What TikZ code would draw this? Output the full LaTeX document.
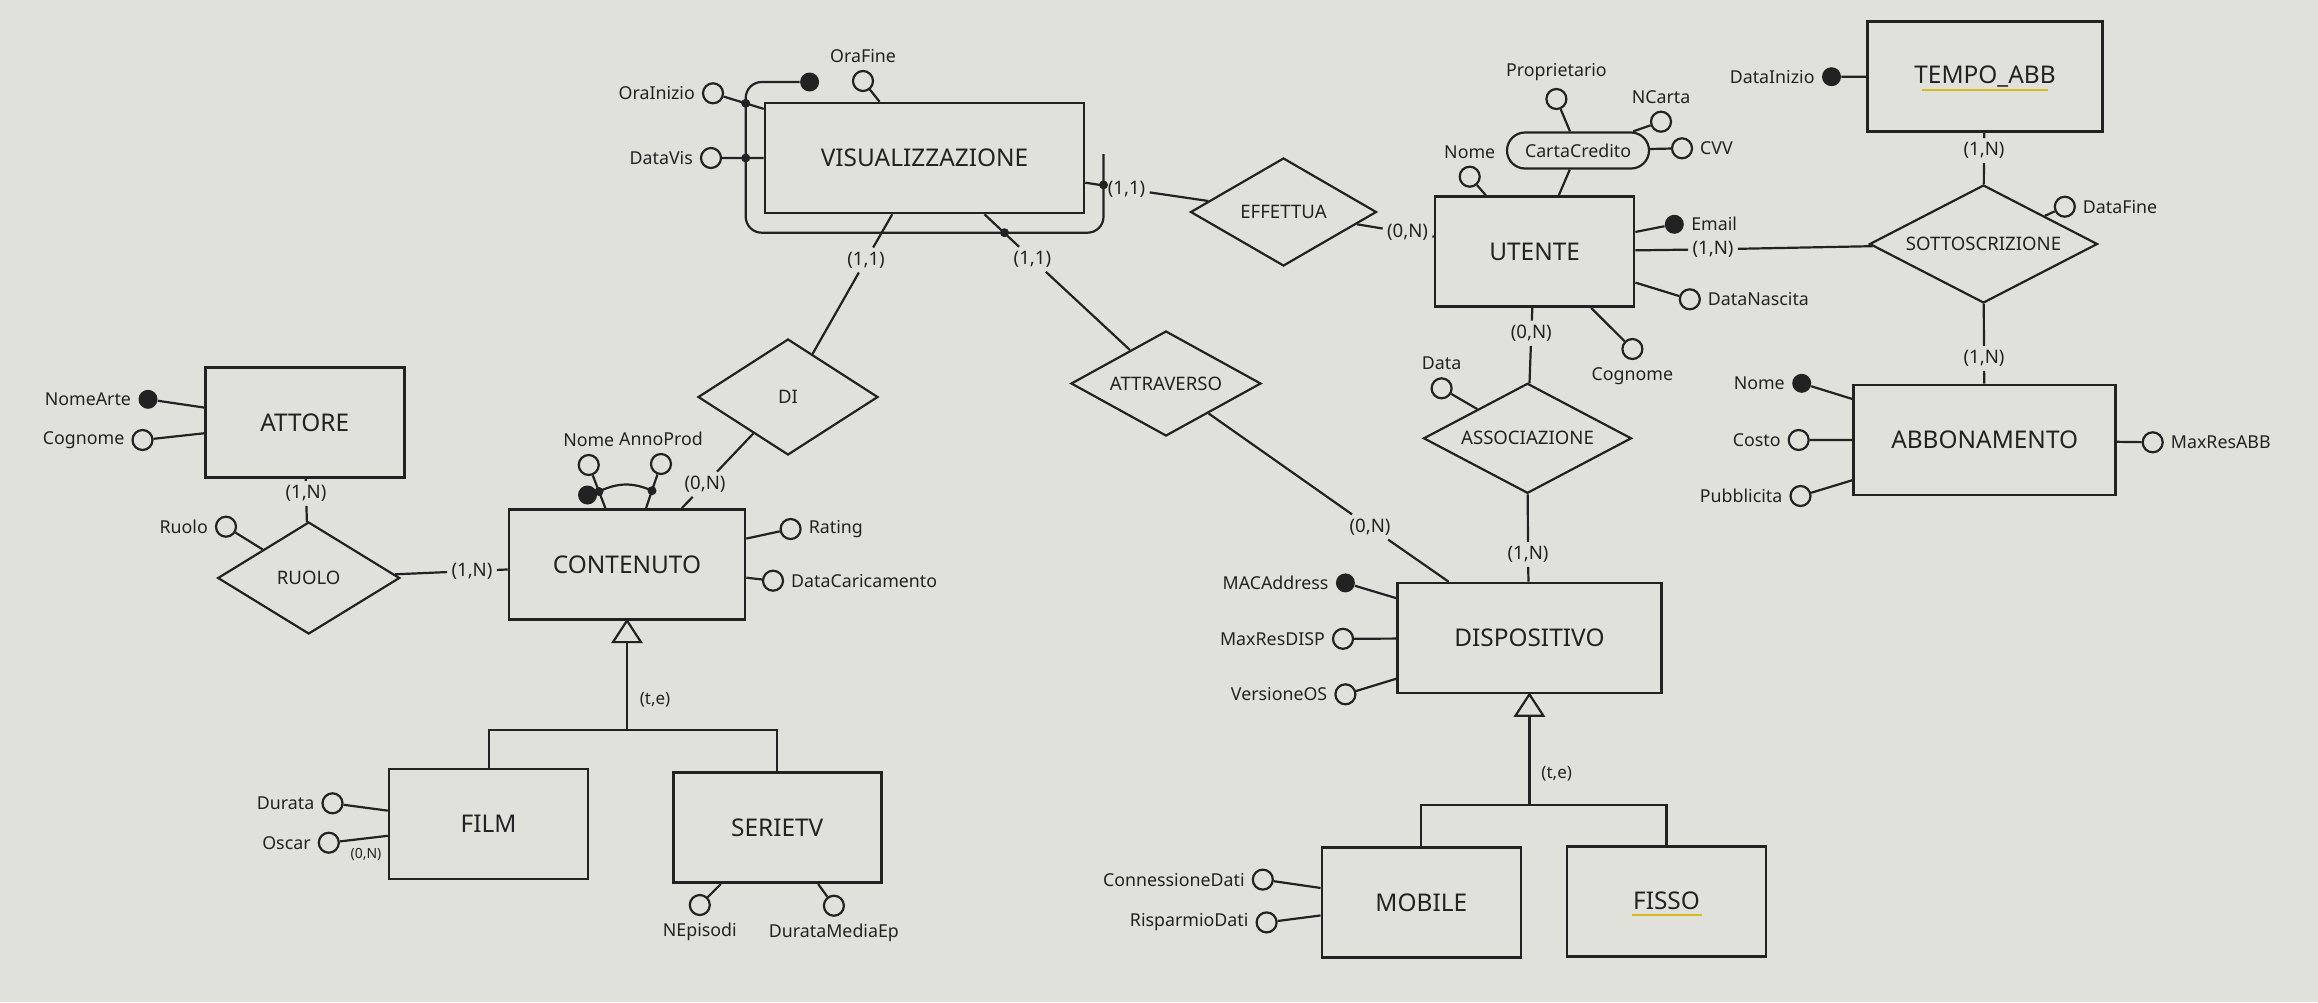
\documentclass[tikz,border=0pt]{standalone}
\usepackage{fontspec}
\setmainfont{Noto Sans}
\usetikzlibrary{shapes.geometric,calc}

\definecolor{sfondo}{RGB}{225,225,220}
\definecolor{tratto}{RGB}{34,34,34}
\definecolor{giallo}{RGB}{214,186,30}

\begin{document}
\begin{tikzpicture}[x=0.5pt,y=-0.5pt,
    every node/.style={text=tratto},
    entita/.style={rectangle,draw=tratto,line width=1.3pt,minimum width=99.5pt,minimum height=55pt,font=\fontsize{12.2}{14}\selectfont},
    relazione/.style={diamond,aspect=2,draw=tratto,line width=1.1pt,inner sep=0pt,font=\fontsize{9.3}{11}\selectfont},
    composto/.style={rectangle,rounded corners=9pt,draw=tratto,line width=1.1pt,minimum width=71pt,minimum height=18pt,font=\fontsize{8.9}{10}\selectfont},
    attributo/.style={circle,draw=tratto,line width=1.1pt,inner sep=0pt,minimum size=10pt,label distance=2.5pt},
    chiave/.style={circle,fill=tratto,inner sep=0pt,minimum size=9.5pt,label distance=2.5pt},
    punto/.style={circle,fill=tratto,inner sep=0pt,minimum size=4.5pt},
    card/.style={inner sep=2pt,font=\fontsize{9.3}{11}\selectfont},
    every label/.style={font=\fontsize{8.9}{10}\selectfont},
    linea/.style={draw=tratto,line width=1.1pt}
  ]
  \fill[sfondo] (0,0) rectangle (2318,1002);

  % entita
  \node[entita,minimum width=159.5pt] (vis) at (924.5,158) {VISUALIZZAZIONE};
  \node[entita] (att) at (304.7,422.3) {ATTORE};
  \node[entita,minimum width=118pt] (cont) at (627,564.3) {CONTENUTO};
  \node[entita] (film) at (488.6,824) {FILM};
  \node[entita,minimum width=104pt] (serie) at (777.2,827.7) {SERIETV};
  \node[entita] (ute) at (1534.6,251.7) {UTENTE};
  \node[entita,minimum width=117.5pt] (tempo) at (1985,76.7) {TEMPO\_ABB};
  \node[entita,minimum width=131pt] (abb) at (1984.7,440) {ABBONAMENTO};
  \node[entita,minimum width=132pt] (disp) at (1529.4,638) {DISPOSITIVO};
  \node[entita] (mob) at (1421.3,902.5) {MOBILE};
  \node[entita] (fisso) at (1666.5,901.2) {FISSO};

  % relazioni
  \node[relazione,minimum width=93pt,minimum height=54pt] (eff) at (1283.5,212) {EFFETTUA};
  \node[relazione,minimum width=90pt,minimum height=58pt] (di) at (788,397) {DI};
  \node[relazione,minimum width=95pt,minimum height=52.5pt] (attrav) at (1166,383.5) {ATTRAVERSO};
  \node[relazione,minimum width=91pt,minimum height=56pt] (ruolo) at (308.7,578) {RUOLO};
  \node[relazione,minimum width=114pt,minimum height=59pt] (sott) at (1983.5,244) {SOTTOSCRIZIONE};
  \node[relazione,minimum width=104pt,minimum height=55pt] (assoc) at (1527.5,438.3) {ASSOCIAZIONE};

  % cardinalita
  \node[card] (c1) at (1126.5,189) {(1,1)};
  \node[card] (c2) at (1407.5,232.7) {(0,N)};
  \node[card] (c3) at (866,260) {(1,1)};
  \node[card] (c4) at (705,484.3) {(0,N)};
  \node[card] (c5) at (1032.4,259.3) {(1,1)};
  \node[card] (c6) at (1370,527) {(0,N)};
  \node[card] (c7) at (306,493.3) {(1,N)};
  \node[card] (c8) at (472,571) {(1,N)};
  \node[card] (c9) at (1531.3,333.3) {(0,N)};
  \node[card] (c10) at (1528,554.3) {(1,N)};
  \node[card] (c11) at (1984,150.7) {(1,N)};
  \node[card] (c12) at (1984,358.3) {(1,N)};
  \node[card] (c13) at (1713,249.3) {(1,N)};

  \draw[linea] (vis) -- (c1) -- (eff);
  \draw[linea] (eff) -- (c2) -- (ute);
  \draw[linea] (vis) -- (c3) -- (di);
  \draw[linea] (di) -- (c4) -- (cont);
  \draw[linea] (vis) -- (c5) -- (attrav);
  \draw[linea] (attrav) -- (c6) -- (disp);
  \draw[linea] (att) -- (c7) -- (ruolo);
  \draw[linea] (ruolo) -- (c8) -- (cont);
  \draw[linea] (ute) -- (c9) -- (assoc);
  \draw[linea] (assoc) -- (c10) -- (disp);
  \draw[linea] (tempo) -- (c11) -- (sott);
  \draw[linea] (sott) -- (c12) -- (abb);
  \draw[linea] (sott) -- (c13) -- (ute);

  % attributi VISUALIZZAZIONE
  \node[attributo,label=left:OraInizio] (oraini) at (713,93.3) {};
  \node[attributo,label=above:OraFine] (orafine) at (863,81) {};
  \node[attributo,label=left:DataVis] (datavis) at (711,158) {};
  \node[chiave] (idvis) at (809.6,82) {};
  \draw[linea] (oraini) -- (vis) (orafine) -- (vis) (datavis) -- (vis);
  \draw[linea,rounded corners=8pt] (idvis.west) -- (745.7,82) -- (745.7,232.7) -- (1103.5,232.7) -- (1103.5,154);
  \node[punto] (p1) at (745.7,103.3) {};
  \node[punto] (p2) at (745.7,158) {};
  \node[punto] (p3) at (1103.5,184.9) {};
  \node[punto] (p4) at (1004.5,232.7) {};

  % attributi ATTORE e RUOLO
  \node[chiave,label=left:NomeArte] (nomearte) at (148,399.3) {};
  \node[attributo,label=left:Cognome] (cognomeatt) at (142.5,440) {};
  \node[attributo,label=left:Ruolo] (ruoloattr) at (226,526.7) {};
  \draw[linea] (nomearte) -- (att) (cognomeatt) -- (att) (ruoloattr) -- (ruolo);

  % attributi CONTENUTO
  \node[attributo,label=above:Nome] (nomecont) at (588.75,465) {};
  \node[attributo,label=above:AnnoProd] (annoprod) at (661,464) {};
  \node[attributo,label=right:Rating] (rating) at (790.6,529) {};
  \node[attributo,label=right:DataCaricamento] (datacar) at (773,580.7) {};
  \draw[linea] (nomecont) -- (cont) (annoprod) -- (cont) (rating) -- (cont) (datacar) -- (cont);
  \node[punto] (p5) at (599,491.5) {};
  \node[punto] (p6) at (652,490.7) {};
  \node[chiave] (idcont) at (587.5,495) {};
  \draw[linea] (p5.center) to[bend left=25] (p6.center);

  % gerarchia CONTENUTO
  \draw[linea,fill=sfondo] (cont.south) -- ++(-14,21.5) -- ++(28,0) -- cycle;
  \coordinate (isa1) at ($(cont.south)+(0,21.5)$);
  \coordinate (gen1) at ($(isa1)+(0,87.5)$);
  \draw[linea] (isa1) -- (gen1) (film.north) |- (gen1) -| (serie.north);
  \node[font=\fontsize{8.5}{10}\selectfont] (te1) at (655,700) {(t,e)};

  % attributi FILM e SERIETV
  \node[attributo,label=left:Durata] (durata) at (332.5,803.3) {};
  \node[attributo,label=left:Oscar] (oscar) at (328.8,842.7) {};
  \node[font=\fontsize{7}{8}\selectfont] (cardoscar) at (366,854.3) {(0,N)};
  \node[attributo,label=below:NEpisodi] (nepisodi) at (699.8,905) {};
  \node[attributo,label=below:DurataMediaEp] (durmedia) at (833.9,905.7) {};
  \draw[linea] (durata) -- (film) (oscar) -- (film) (nepisodi) -- (serie) (durmedia) -- (serie);

  % attributi UTENTE
  \node[composto] (carta) at (1578,150.5) {CartaCredito};
  \node[attributo,label=above:Proprietario] (propr) at (1556.4,99) {};
  \node[attributo,label=above:NCarta] (ncarta) at (1661,121.7) {};
  \node[attributo,label=right:CVV] (cvv) at (1682,148.3) {};
  \node[attributo,label=above:Nome] (nomeute) at (1469.7,176.7) {};
  \node[chiave,label=right:Email] (email) at (1674.3,224.3) {};
  \node[attributo,label=right:DataNascita] (datanascita) at (1689.8,299.3) {};
  \node[attributo,label=below:Cognome] (cognomeute) at (1632.4,349) {};
  \draw[linea] (propr) -- (carta) (ncarta) -- (carta) (cvv) -- (carta) (carta) -- (ute);
  \draw[linea] (nomeute) -- (ute) (email) -- (ute) (datanascita) -- (ute) (cognomeute) -- (ute);

  % attributi TEMPO_ABB, SOTTOSCRIZIONE, ABBONAMENTO
  \node[chiave,label=left:DataInizio] (datainizio) at (1831.5,76.7) {};
  \draw[giallo,line width=1pt] ($(tempo.center)+(-63,13)$) -- ($(tempo.center)+(63,13)$);
  \node[attributo,label=right:DataFine] (datafine) at (2064.8,206.7) {};
  \node[chiave,label=left:Nome] (nomeabb) at (1801.7,383.3) {};
  \node[attributo,label=left:Costo] (costo) at (1798.7,440) {};
  \node[attributo,label=left:Pubblicita] (pubbl) at (1800.5,496) {};
  \node[attributo,label=right:MaxResABB] (maxresabb) at (2152.7,442.3) {};
  \draw[linea] (datainizio) -- (tempo) (datafine) -- (sott);
  \draw[linea] (nomeabb) -- (abb) (costo) -- (abb) (pubbl) -- (abb) (maxresabb) -- (abb);

  % attributi ASSOCIAZIONE e DISPOSITIVO
  \node[attributo,label=above:Data] (data) at (1441.6,388.3) {};
  \node[chiave,label=left:MACAddress] (mac) at (1345.4,582.9) {};
  \node[attributo,label=left:MaxResDISP] (maxresdisp) at (1343,638.8) {};
  \node[attributo,label=left:VersioneOS] (versione) at (1345.4,694.3) {};
  \draw[linea] (data) -- (assoc) (mac) -- (disp) (maxresdisp) -- (disp) (versione) -- (disp);

  % gerarchia DISPOSITIVO
  \draw[linea,fill=sfondo] (disp.south) -- ++(-14,21.5) -- ++(28,0) -- cycle;
  \coordinate (isa2) at ($(disp.south)+(0,21.5)$);
  \coordinate (gen2) at ($(isa2)+(0,88.8)$);
  \draw[linea] (isa2) -- (gen2) (mob.north) |- (gen2) -| (fisso.north);
  \node[font=\fontsize{8.5}{10}\selectfont] (te2) at (1556.7,773.9) {(t,e)};
  \draw[giallo,line width=1pt] ($(fisso.center)+(-35,14)$) -- ($(fisso.center)+(35,14)$);

  % attributi MOBILE
  \node[attributo,label=left:ConnessioneDati] (conndati) at (1262.8,879.6) {};
  \node[attributo,label=left:RisparmioDati] (rispdati) at (1266.6,922.4) {};
  \draw[linea] (conndati) -- (mob) (rispdati) -- (mob);
\end{tikzpicture}
\end{document}
